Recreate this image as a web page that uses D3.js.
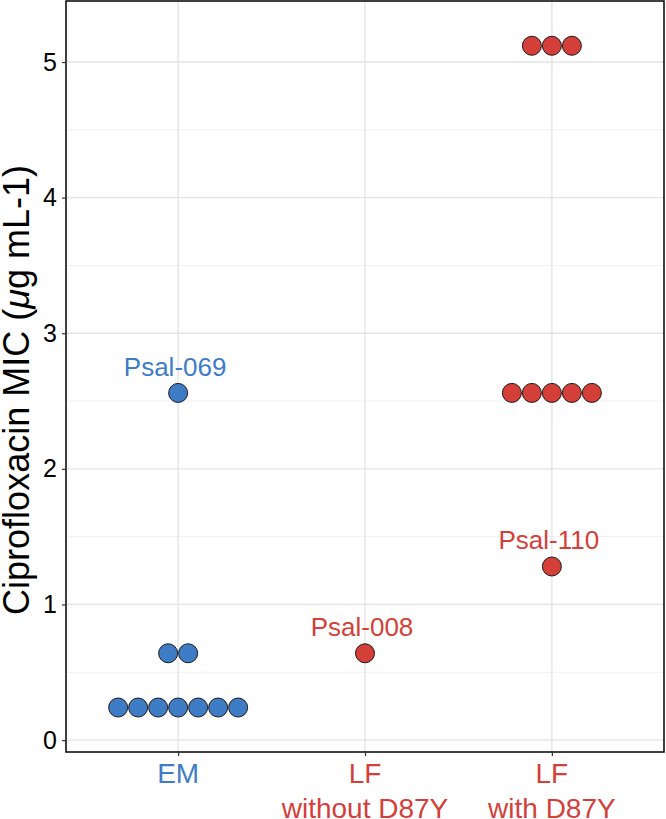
<!DOCTYPE html>
<html><head><meta charset="utf-8">
<script src="https://cdn.jsdelivr.net/npm/d3@7"></script>
<style>body{margin:0;background:#fff}svg{display:block}text{font-family:"Liberation Sans",Arial,sans-serif}</style>
</head><body>
<script>
const categories = ["EM", "LF\nwithout D87Y", "LF\nwith D87Y"];
const catColors = ["#3E7CC6", "#D43F3A", "#D43F3A"];
const emValues = [0.24,0.24,0.24,0.24,0.24,0.24,0.24,0.64,0.64,2.56];
const lfWithoutValues = [0.64];
const lfWithValues = [1.28,2.56,2.56,2.56,2.56,2.56,5.12,5.12,5.12];
const labels = [
  {cat: 0, value: 2.56, text: "Psal-069"},
  {cat: 1, value: 0.64, text: "Psal-008"},
  {cat: 2, value: 1.28, text: "Psal-110"}
];
const yTicks = [0,1,2,3,4,5];
const yMinor = [0.5,1.5,2.5,3.5,4.5];

const W = 666, H = 819;
const m = {left: 66, right: 2, top: 1, bottom: 67};
const svg = d3.select("body").append("svg").attr("width", W).attr("height", H);
const x = d3.scaleLinear().domain([0.4, 3.6]).range([m.left, W - m.right]);
const y = d3.scaleLinear().domain([-0.088, 5.45]).range([H - m.bottom, m.top]);
const g = svg.append("g");

// grid
g.selectAll(".minor").data(yMinor).enter().append("line")
  .attr("x1", x(0.4)).attr("x2", x(3.6)).attr("y1", d => y(d)).attr("y2", d => y(d))
  .attr("stroke", "#f0f0f0").attr("stroke-width", 1);
g.selectAll(".major").data(yTicks).enter().append("line")
  .attr("x1", x(0.4)).attr("x2", x(3.6)).attr("y1", d => y(d)).attr("y2", d => y(d))
  .attr("stroke", "#e3e3e3").attr("stroke-width", 1.3);
g.selectAll(".vmajor").data(categories).enter().append("line")
  .attr("x1", (d,i) => x(i+1)).attr("x2", (d,i) => x(i+1)).attr("y1", y(5.45)).attr("y2", y(-0.088))
  .attr("stroke", "#e3e3e3").attr("stroke-width", 1.3);

// dots
const r = 10;
const groups = [emValues, lfWithoutValues, lfWithValues];
groups.forEach((vals, ci) => {
  const counts = d3.rollup(vals, v => v.length, d => d);
  const pts = [];
  counts.forEach((n, v) => {
    for (let k = 0; k < n; k++) pts.push({v, off: (k - (n - 1) / 2) * 2 * r});
  });
  g.selectAll(null).data(pts).enter().append("circle")
    .attr("cx", d => x(ci + 1) + d.off).attr("cy", d => y(d.v)).attr("r", r - 0.5)
    .attr("fill", catColors[ci]).attr("stroke", "#1a1a1a").attr("stroke-width", 1);
});

// labels
g.selectAll(".lab").data(labels).enter().append("text")
  .attr("x", d => x(d.cat + 1) - 3).attr("y", d => y(d.value) - 17)
  .attr("text-anchor", "middle").attr("font-size", 26)
  .attr("fill", d => catColors[d.cat]).text(d => d.text);

// panel border
g.append("rect").attr("x", m.left).attr("y", m.top)
  .attr("width", W - m.right - m.left).attr("height", H - m.bottom - m.top)
  .attr("fill", "none").attr("stroke", "#000").attr("stroke-width", 1.5);

// y axis
const ya = svg.append("g").attr("transform", `translate(${m.left},0)`)
  .call(d3.axisLeft(y).tickValues(yTicks).tickSize(4).tickPadding(5).tickFormat(d3.format("d")));
ya.select(".domain").remove();
ya.selectAll("line").attr("stroke", "#333").attr("stroke-width", 1.2);
ya.selectAll("text").attr("font-size", 25).attr("fill", "#000").attr("font-family", '"Liberation Sans",Arial,sans-serif');

// x axis
const xa = svg.append("g").attr("transform", `translate(0,${H - m.bottom})`)
  .call(d3.axisBottom(x).tickValues([1,2,3]).tickSize(4).tickFormat(""));
xa.select(".domain").remove();
xa.selectAll("line").attr("stroke", "#333").attr("stroke-width", 1.2);
categories.forEach((c, i) => {
  const t = svg.append("text").attr("x", x(i + 1)).attr("y", 783)
    .attr("text-anchor", "middle").attr("font-size", 28).attr("fill", catColors[i]);
  c.split("\n").forEach((line, j) => {
    t.append("tspan").attr("x", x(i + 1)).attr("dy", j === 0 ? 0 : 35).text(line);
  });
});

// y title
const yt = svg.append("text").attr("transform", "translate(29,390) rotate(-90)")
  .attr("text-anchor", "middle").attr("font-size", 36).attr("fill", "#000");
yt.append("tspan").text("Ciprofloxacin MIC (");
yt.append("tspan").attr("font-style", "italic").text("μ");
yt.append("tspan").text("g mL-1)");
</script>
</body></html>
